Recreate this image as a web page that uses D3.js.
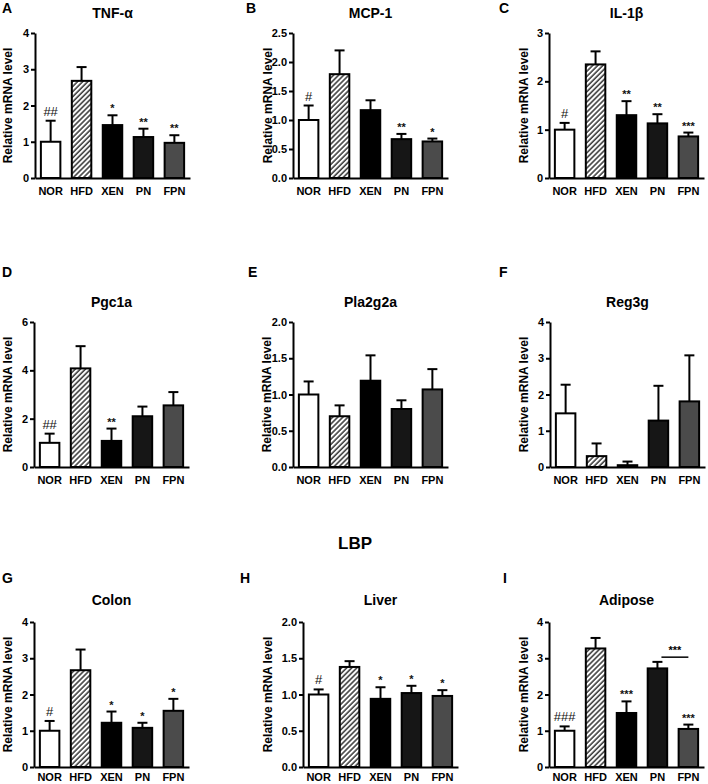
<!DOCTYPE html>
<html>
<head>
<meta charset="UTF-8">
<style>
body{margin:0;background:#fff;}
svg{display:block;font-family:Arial,"Liberation Sans",sans-serif;}
</style>
</head>
<body>
<svg id="fig"></svg>
<script src="https://d3js.org/d3.v7.min.js"></script>
<script>
const width = 708, height = 784;

// groups on the x axis
const groups = ["NOR", "HFD", "XEN", "PN", "FPN"];

// values (mean and upper error)
const tnfMean = [1.0, 2.68, 1.46, 1.13, 0.97];
const tnfSem  = [0.58, 0.38, 0.27, 0.23, 0.21];
const tnfSig  = ["##", "", "*", "**", "**"];

const mcpMean = [1.0, 1.79, 1.17, 0.67, 0.63];
const mcpSem  = [0.25, 0.41, 0.17, 0.09, 0.05];
const mcpSig  = ["#", "", "", "**", "*"];

const il1Mean = [1.0, 2.35, 1.30, 1.13, 0.86];
const il1Sem  = [0.14, 0.27, 0.29, 0.19, 0.08];
const il1Sig  = ["#", "", "**", "**", "***"];

const pgcMean = [1.0, 4.08, 1.08, 2.10, 2.55];
const pgcSem  = [0.38, 0.92, 0.51, 0.40, 0.55];
const pgcSig  = ["##", "", "**", "", ""];

const plaMean = [1.0, 0.70, 1.19, 0.80, 1.07];
const plaSem  = [0.18, 0.15, 0.35, 0.12, 0.28];
const plaSig  = ["", "", "", "", ""];

const regMean = [1.48, 0.30, 0.05, 1.28, 1.81];
const regSem  = [0.79, 0.35, 0.10, 0.96, 1.27];
const regSig  = ["", "", "", "", ""];

const colonMean = [1.0, 2.67, 1.22, 1.08, 1.55];
const colonSem  = [0.27, 0.57, 0.31, 0.14, 0.33];
const colonSig  = ["#", "", "*", "*", "*"];

const liverMean = [1.0, 1.38, 0.94, 1.02, 0.98];
const liverSem  = [0.07, 0.08, 0.16, 0.10, 0.08];
const liverSig  = ["#", "", "*", "*", "*"];

const adiMean = [1.0, 3.27, 1.49, 2.72, 1.05];
const adiSem  = [0.12, 0.29, 0.32, 0.18, 0.12];
const adiSig  = ["###", "", "***", "", "***"];
// PN vs FPN comparison in adipose
const adiBracket = {from: "PN", to: "FPN", level: 3.03, label: "***"};

const panels = [
  {letter: "A", title: "TNF-α",   mean: tnfMean,   sem: tnfSem,   sig: tnfSig,   max: 4,   step: 1,   fmt: "d"},
  {letter: "B", title: "MCP-1",   mean: mcpMean,   sem: mcpSem,   sig: mcpSig,   max: 2.5, step: 0.5, fmt: ".1f"},
  {letter: "C", title: "IL-1β",   mean: il1Mean,   sem: il1Sem,   sig: il1Sig,   max: 3,   step: 1,   fmt: "d"},
  {letter: "D", title: "Pgc1a",   mean: pgcMean,   sem: pgcSem,   sig: pgcSig,   max: 6,   step: 2,   fmt: "d"},
  {letter: "E", title: "Pla2g2a", mean: plaMean,   sem: plaSem,   sig: plaSig,   max: 2,   step: 0.5, fmt: ".1f"},
  {letter: "F", title: "Reg3g",   mean: regMean,   sem: regSem,   sig: regSig,   max: 4,   step: 1,   fmt: "d"},
  {letter: "G", title: "Colon",   mean: colonMean, sem: colonSem, sig: colonSig, max: 4,   step: 1,   fmt: "d"},
  {letter: "H", title: "Liver",   mean: liverMean, sem: liverSem, sig: liverSig, max: 2,   step: 0.5, fmt: ".1f"},
  {letter: "I", title: "Adipose", mean: adiMean,   sem: adiSem,   sig: adiSig,   max: 4,   step: 1,   fmt: "d", bracket: adiBracket}
];

// layout of the 3x3 grid
const axisX   = [[35, 293, 549], [34, 293, 550], [34, 303, 549]];
const letterX = [[2, 246, 499], [2, 248, 499], [2, 240, 503]];
const ylabX   = [[8, 268, 524], [8, 267, 524], [8, 268, 524]];
const rowTop    = [33, 322, 622];
const rowBottom = [178, 467, 767];
const titleY  = [13, 302, 600];
const letterY = [8, 272, 578];
const labelPad = [9, 9, 6];
const plotW = 155;

const fills = ["#ffffff", "url(#hatch)", "#000000", "#161616", "#4b4b4b"];

let svg = d3.select("#fig")
  .attr("width", width)
  .attr("height", height)
  .attr("viewBox", "0 0 " + width + " " + height);

svg.append("rect").attr("width", width).attr("height", height).attr("fill", "#fff");

let defs = svg.append("defs");
defs.append("pattern")
  .attr("id", "hatch")
  .attr("patternUnits", "userSpaceOnUse")
  .attr("width", 3.6)
  .attr("height", 3.6)
  .attr("patternTransform", "rotate(45)")
  .call(p => {
    p.append("rect").attr("width", 3.6).attr("height", 3.6).attr("fill", "#fff");
    p.append("line").attr("x1", 1).attr("y1", 0).attr("x2", 1).attr("y2", 3.6)
      .attr("stroke", "#333").attr("stroke-width", 1.5);
  });

panels.forEach((p, i) => {
  const r = Math.floor(i / 3), c = i % 3;
  const ax = axisX[r][c];
  const top = rowTop[r], bot = rowBottom[r];

  const x = d3.scaleBand().domain(groups).range([ax, ax + plotW])
    .paddingInner(0.37).paddingOuter(0.19);
  const y = d3.scaleLinear().domain([0, p.max]).range([bot, top]);

  const g = svg.append("g");

  // panel letter
  g.append("text")
    .attr("x", letterX[r][c]).attr("y", letterY[r]).attr("dy", "0.35em")
    .attr("font-size", 14).attr("font-weight", "bold")
    .text(p.letter);

  // title
  g.append("text")
    .attr("x", ax + plotW / 2).attr("y", titleY[r]).attr("dy", "0.35em")
    .attr("text-anchor", "middle")
    .attr("font-size", 14).attr("font-weight", "bold")
    .text(p.title);

  const rows = groups.map((k, j) => ({k: k, m: p.mean[j], e: p.sem[j], s: p.sig[j], f: fills[j]}));

  // error bars (upper only)
  const eb = g.append("g").attr("stroke", "#000").attr("stroke-width", 2);
  eb.selectAll("line.v").data(rows).enter().append("line")
    .attr("x1", d => x(d.k) + x.bandwidth() / 2)
    .attr("x2", d => x(d.k) + x.bandwidth() / 2)
    .attr("y1", d => y(d.m))
    .attr("y2", d => y(d.m + d.e));
  eb.selectAll("line.c").data(rows).enter().append("line")
    .attr("x1", d => x(d.k) + x.bandwidth() / 2 - 5)
    .attr("x2", d => x(d.k) + x.bandwidth() / 2 + 5)
    .attr("y1", d => y(d.m + d.e))
    .attr("y2", d => y(d.m + d.e));

  // bars
  g.selectAll("rect.bar").data(rows).enter().append("rect")
    .attr("class", "bar")
    .attr("x", d => x(d.k))
    .attr("width", x.bandwidth())
    .attr("y", d => y(d.m))
    .attr("height", d => y(0) - y(d.m))
    .attr("fill", d => d.f)
    .attr("stroke", "#000")
    .attr("stroke-width", 2);

  // significance marks
  g.selectAll("text.sig").data(rows.filter(d => d.s)).enter().append("text")
    .attr("x", d => x(d.k) + x.bandwidth() / 2)
    .attr("y", d => y(d.m + d.e) - (d.s[0] === "#" ? 5 : 3))
    .attr("text-anchor", "middle")
    .attr("font-size", d => d.s[0] === "#" ? 13 : 11)
    .attr("font-family", "Arial, 'Liberation Sans', sans-serif")
    .attr("font-weight", d => d.s[0] === "#" ? "normal" : "bold")
    .attr("fill", "#111")
    .text(d => d.s);

  if (p.bracket) {
    const b = p.bracket;
    const x1 = x(b.from) + x.bandwidth() / 2 + 4, x2 = x(b.to) + x.bandwidth() / 2;
    g.append("line")
      .attr("x1", x1).attr("x2", x2)
      .attr("y1", y(b.level)).attr("y2", y(b.level))
      .attr("stroke", "#000").attr("stroke-width", 1.5);
    g.append("text")
      .attr("x", (x1 + x2) / 2).attr("y", y(b.level) - 3)
      .attr("text-anchor", "middle")
      .attr("font-size", 11).attr("font-weight", "bold")
      .text(b.label);
  }

  // y axis
  const ticks = d3.range(0, p.max + p.step / 2, p.step);
  const yAxis = g.append("g")
    .attr("transform", "translate(" + ax + ",0)")
    .call(d3.axisLeft(y).tickValues(ticks).tickFormat(d3.format(p.fmt))
      .tickSize(4).tickSizeOuter(0).tickPadding(2));
  yAxis.select(".domain").attr("stroke-width", 2);
  yAxis.selectAll(".tick line").attr("stroke-width", 2);
  yAxis.selectAll("text").attr("font-size", 11).attr("font-weight", "bold")
    .attr("font-family", "Arial, 'Liberation Sans', sans-serif").attr("fill", "#000");

  // x axis
  const xAxis = g.append("g")
    .attr("transform", "translate(0," + bot + ")")
    .call(d3.axisBottom(x).tickSize(0).tickSizeOuter(0).tickPadding(labelPad[r]));
  xAxis.select(".domain").attr("stroke-width", 2);
  xAxis.selectAll("text").attr("font-size", 11).attr("font-weight", "bold")
    .attr("font-family", "Arial, 'Liberation Sans', sans-serif").attr("fill", "#000");

  // y axis label
  g.append("text")
    .attr("transform", "translate(" + ylabX[r][c] + "," + ((top + bot) / 2) + ") rotate(-90)")
    .attr("dy", "0.35em")
    .attr("text-anchor", "middle")
    .attr("font-size", 12).attr("font-weight", "bold")
    .text("Relative mRNA level");
});

// section heading between rows
svg.append("text")
  .attr("x", 355).attr("y", 543).attr("dy", "0.35em")
  .attr("text-anchor", "middle")
  .attr("font-size", 17).attr("font-weight", "bold")
  .text("LBP");
</script>
</body>
</html>
